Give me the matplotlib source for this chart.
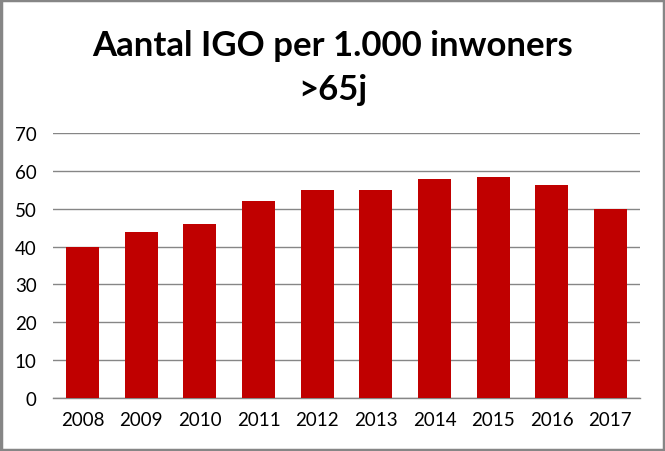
import matplotlib
matplotlib.use("Agg")
import matplotlib.pyplot as plt
from matplotlib.patches import Rectangle

years = ["2008", "2009", "2010", "2011", "2012", "2013", "2014", "2015", "2016", "2017"]
values = [40.0, 43.8, 46.0, 52.1, 54.8, 54.8, 57.9, 58.4, 56.3, 50.0]
yticks = [0, 10, 20, 30, 40, 50, 60, 70]
title_line1 = "Aantal IGO per 1.000 inwoners"
title_line2 = ">65j"

plt.rcParams['font.family'] = ['Lato', 'DejaVu Sans']

fig = plt.figure(figsize=(6.65, 4.52), dpi=100)
ax = fig.add_axes([0.08, 0.117, 0.882, 0.587])

x = range(len(years))
ax.bar(x, values, width=0.56, color="#C00000", zorder=3)
ax.set_xlim(-0.5, len(years) - 0.5)
ax.set_ylim(0, 70)
ax.set_yticks(yticks)
ax.set_xticks(list(x))
ax.set_xticklabels(years)
ax.yaxis.grid(True, color="#868686", linewidth=1.0, zorder=0)
for s in ["top", "right", "left"]:
    ax.spines[s].set_visible(False)
ax.spines["bottom"].set_color("#868686")
ax.spines["bottom"].set_linewidth(1.0)
ax.tick_params(axis="both", length=0, labelsize=13.5, colors="black")
ax.tick_params(axis="x", pad=9)
ax.tick_params(axis="y", pad=12)

fig.text(0.5, 0.898, title_line1, ha="center", va="center", fontsize=25, fontweight="bold")
fig.text(0.5, 0.800, title_line2, ha="center", va="center", fontsize=25, fontweight="bold")

fig.patches.append(Rectangle((0.002, 0.003), 0.996, 0.994, transform=fig.transFigure,
                             fill=False, edgecolor="#868686", linewidth=2.5))

fig.savefig("out.png", dpi=100)
